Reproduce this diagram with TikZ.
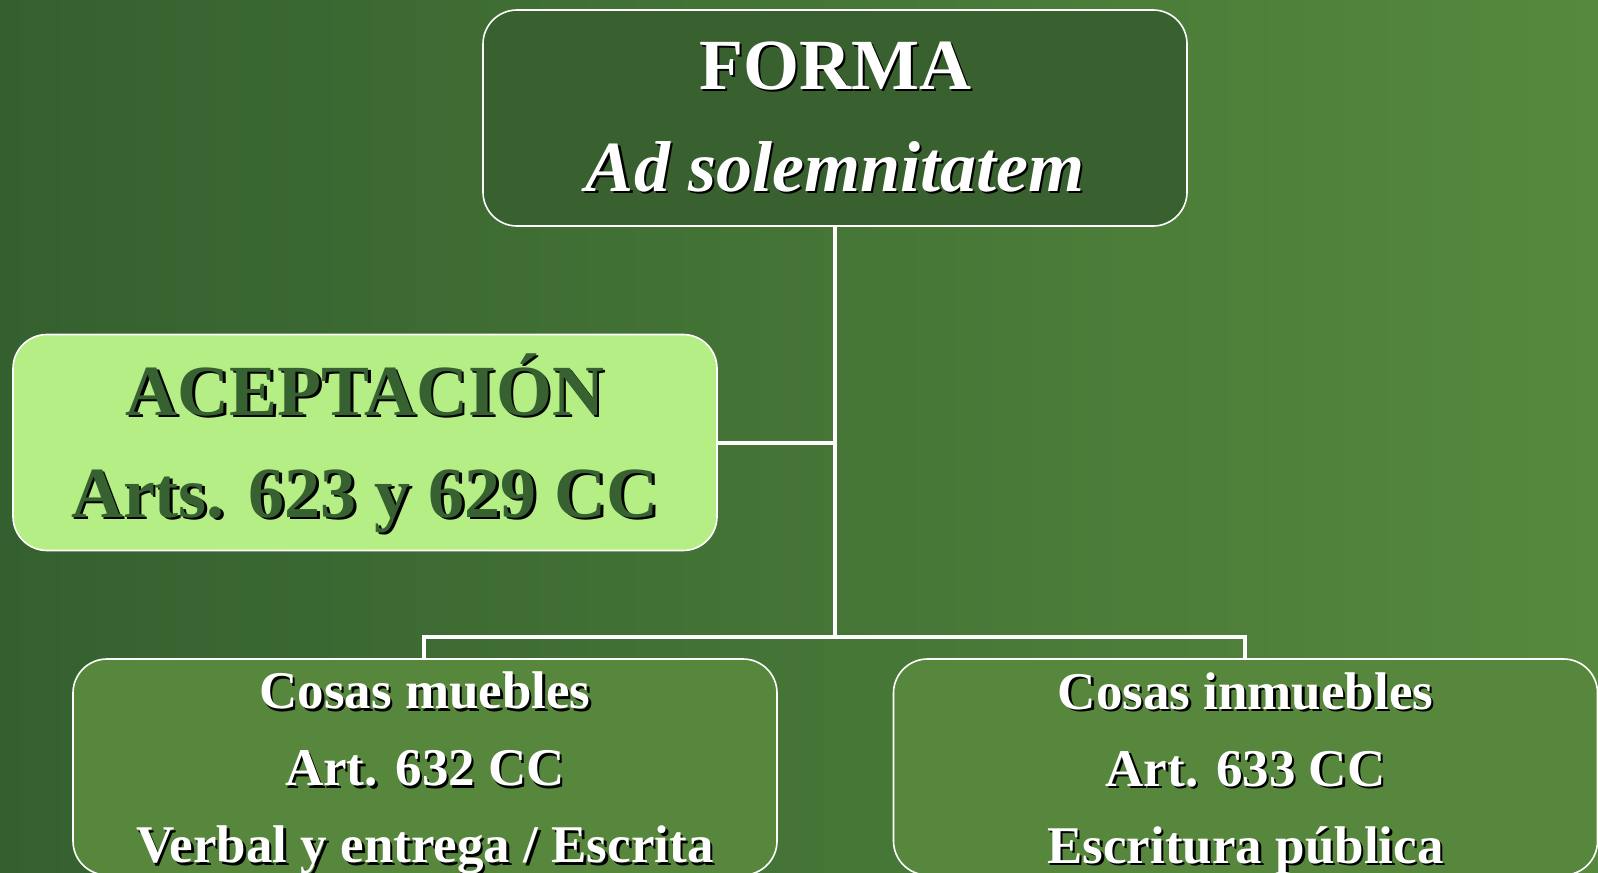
\documentclass[tikz,border=0pt]{standalone}
\usepackage{fontspec}
\setmainfont{Liberation Serif}
\usetikzlibrary{shapes,positioning}

\definecolor{bgleft}{HTML}{34602F}
\definecolor{bgmid}{HTML}{3F6D34}
\definecolor{bgright}{HTML}{56893D}
\definecolor{darkbox}{HTML}{38612F}
\definecolor{midbox}{HTML}{56873D}
\definecolor{lightbox}{HTML}{B5EE84}
\definecolor{darktext}{HTML}{386132}

% text with a black drop shadow
\newcommand{\shd}[1]{\makebox[0pt][l]{\kern1.2pt\raisebox{-1.2pt}{\textcolor{black}{#1}}}#1}

\begin{document}
\begin{tikzpicture}[x=0.5pt,y=0.5pt,
	box/.style={draw=white,line width=0.8pt,rounded corners=17pt,
		minimum width=352pt,minimum height=108pt,align=center,
		inner xsep=0pt,inner ysep=-6pt},
	bigtext/.style={font=\bfseries\fontsize{36}{51}\selectfont},
	smalltext/.style={font=\bfseries\fontsize{26.5}{38.5}\selectfont},
	link/.style={draw=white,line width=2pt}]

	\shade[left color=bgleft,middle color=bgmid,right color=bgright]
		(0,0) rectangle (1598,-872);
	\useasboundingbox (0,0) rectangle (1598,-872);

	\coordinate (bus) at (835,-637);

	\draw[link] (835,-226) -- (bus);
	\draw[link] (718,-443) -- (835,-443);
	\draw[link] (424,-659) |- (bus) -| (1245,-659);

	\node[box,bigtext,fill=darkbox,text=white] (forma) at (835,-118)
		{\shd{FORMA}\\\shd{\itshape Ad solemnitatem}};
	\node[box,bigtext,fill=lightbox,text=darktext] (acept) at (365,-442.5)
		{\rule{0pt}{33pt}\shd{ACEPTACIÓN}\\\shd{Arts. 623 y 629 CC}};
	\node[box,smalltext,fill=midbox,text=white] (muebles) at (425,-767)
		{\rule{0pt}{26pt}\shd{Cosas muebles}\\\shd{Art. 632 CC}\\\shd{Verbal y entrega / Escrita}};
	\node[box,smalltext,fill=midbox,text=white] (inmuebles) at (1245.5,-767)
		{\rule{0pt}{26pt}\shd{Cosas inmuebles}\\\shd{Art. 633 CC}\\\shd{Escritura pública}};

\end{tikzpicture}
\end{document}
